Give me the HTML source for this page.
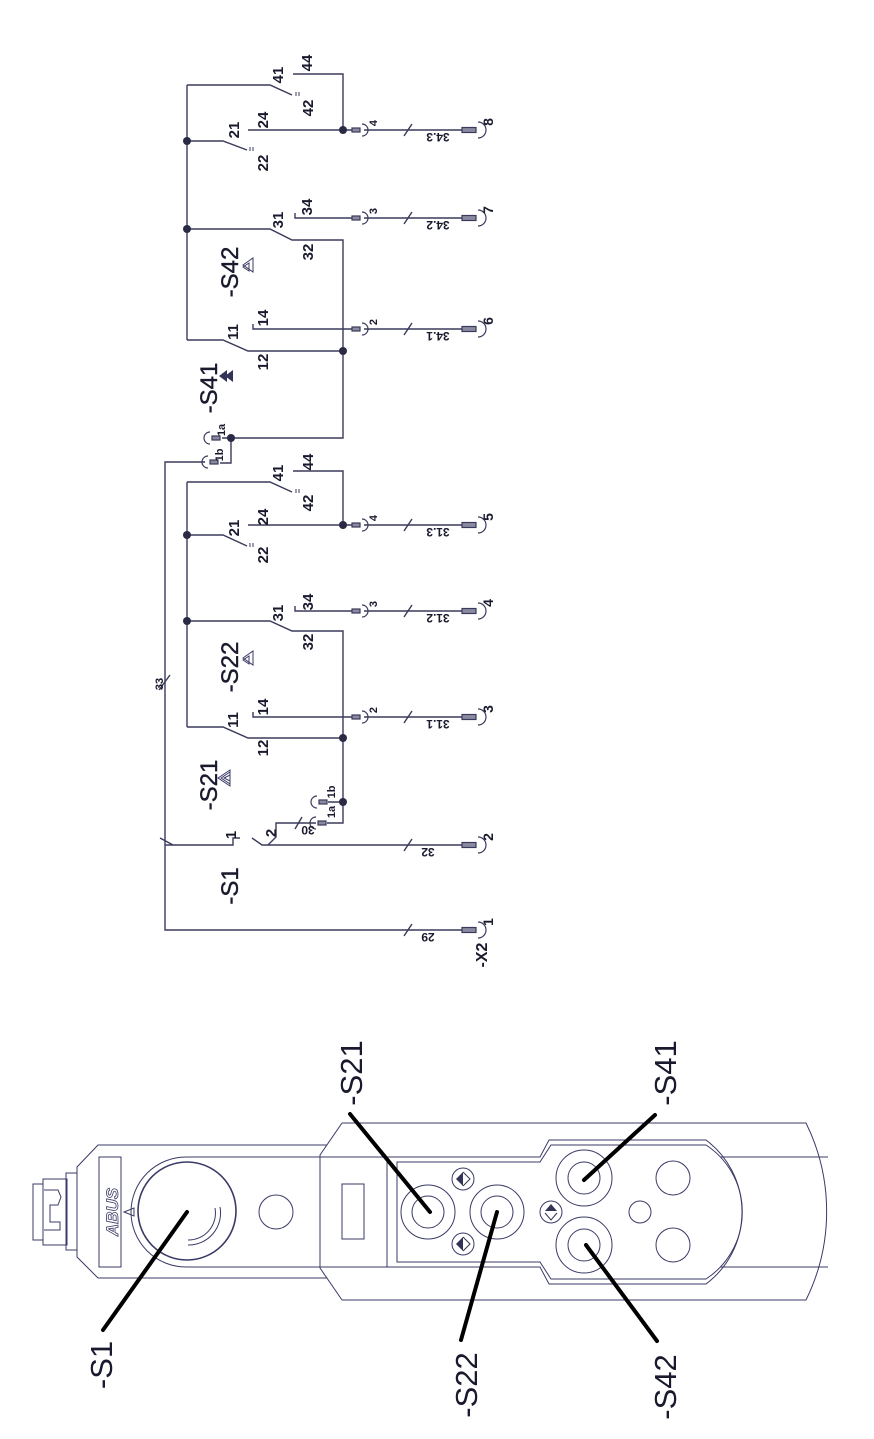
<!DOCTYPE html>
<html><head><meta charset="utf-8"><style>
html,body{margin:0;padding:0;background:#fff;}
svg{display:block;}
text{font-family:"Liberation Sans",sans-serif;fill:#1a1a2e;}
.w{fill:none;stroke:#3a3a5c;stroke-width:1.4;}
.d{fill:none;stroke:#3a3a66;stroke-width:1;}
.c{font-size:15px;font-weight:bold;}
.t{font-size:11px;font-weight:bold;}
.e{font-size:14px;font-weight:bold;}
.r{font-size:12px;font-weight:bold;}
.big{font-size:24px;stroke:#1a1a2e;stroke-width:0.4;}
.lab{font-size:31px;}
</style></head><body>
<svg width="874" height="1439" viewBox="0 0 874 1439" xmlns="http://www.w3.org/2000/svg">
<defs>
<g id="mt"><rect x="0" y="-2" width="8" height="4" fill="#8a8aa0" stroke="#3a3a5c" stroke-width="1.2"/><path d="M10,-6 A6,6 0 0 1 10,6" fill="none" stroke="#3a3a5c" stroke-width="1.2"/></g>
<g id="et"><rect x="0" y="-2.5" width="14" height="5" fill="#8a8aa0" stroke="#3a3a5c" stroke-width="1.2"/><path d="M16,-8 A8,8 0 0 1 16,8" fill="none" stroke="#3a3a5c" stroke-width="1.2"/></g>
<g id="jt"><path d="M-2,-6 A6,6 0 0 0 -2,6" fill="none" stroke="#3a3a5c" stroke-width="1.2"/><rect x="0" y="-2" width="8" height="4" fill="#8a8aa0" stroke="#3a3a5c" stroke-width="1.2"/></g>
</defs>

<path class="w" d="M187,85 V340"/>
<path class="w" d="M187,85 H270 L292,95"/>
<path class="w" d="M293,74 H343 V130"/>
<path class="w" d="M187,141 H223 L247,150"/>
<path class="w" d="M248,130 H352 M364,130 H462"/>
<path class="w" d="M187,229 H270 L292,240 H343 V351"/>
<path class="w" d="M295,213 V218 H352 M364,218 H462"/>
<path class="w" d="M187,340 H223 L248,351 H343"/>
<path class="w" d="M253,324 V329 H352 M364,329 H462"/>
<path class="w" d="M343,351 V438 H222 M231,438 V463 H220 M205,462 H165 V845"/>
<path class="w" d="M404,136 L412,124 M404,224 L412,212 M404,335 L412,323"/>
<path class="d" d="M296,92 v4 M299,92 v4 M250,147 v4 M253,147 v4"/>
<g fill="#2a2a44"><circle cx="187" cy="141" r="4"/><circle cx="187" cy="229" r="4"/><circle cx="343" cy="130" r="4"/><circle cx="343" cy="351" r="4"/><circle cx="231" cy="438" r="4"/></g>
<use href="#mt" x="352" y="130"/><use href="#mt" x="352" y="218"/><use href="#mt" x="352" y="329"/>
<use href="#et" x="462" y="130"/><use href="#et" x="462" y="218"/><use href="#et" x="462" y="329"/>
<use href="#jt" x="212" y="438"/><use href="#jt" x="210" y="462"/>

<path class="w" d="M187,482 V727"/>
<path class="w" d="M187,482 H270 L292,492"/>
<path class="w" d="M293,471 H343 V525"/>
<path class="w" d="M187,535 H223 L247,546"/>
<path class="w" d="M248,525 H352 M364,525 H462"/>
<path class="w" d="M187,621 H270 L292,631 H343 V738"/>
<path class="w" d="M295,606 V611 H352 M364,611 H462"/>
<path class="w" d="M187,727 H223 L248,738 H343"/>
<path class="w" d="M253,712 V717 H352 M364,717 H462"/>
<path class="w" d="M343,738 V823 H327 M343,802 H328"/>
<path class="w" d="M404,531 L412,519 M404,617 L412,605 M404,723 L412,711"/>
<path class="d" d="M296,489 v4 M299,489 v4 M250,543 v4 M253,543 v4"/>
<g fill="#2a2a44"><circle cx="187" cy="535" r="4"/><circle cx="187" cy="621" r="4"/><circle cx="343" cy="525" r="4"/><circle cx="343" cy="738" r="4"/><circle cx="343" cy="802" r="4"/></g>
<use href="#mt" x="352" y="525"/><use href="#mt" x="352" y="611"/><use href="#mt" x="352" y="717"/>
<use href="#et" x="462" y="525"/><use href="#et" x="462" y="611"/><use href="#et" x="462" y="717"/>
<use href="#jt" x="318" y="823"/><use href="#jt" x="319" y="802"/>

<path class="w" d="M165,845 V930 H462"/>
<path class="w" d="M160,838 L173,845"/>
<path class="w" d="M165,845 H233 V838 H240 M252,838 L262,845 H462"/>
<path class="w" d="M268,845 L276,837 V823 H316"/>
<path class="w" d="M295,829 L302,817"/>
<path class="w" d="M404,851 L412,839 M404,936 L412,924"/>
<path class="w" d="M159,690 L170,675"/>
<use href="#et" x="462" y="845"/><use href="#et" x="462" y="930"/>

<g class="c">
<text transform="translate(283,75) rotate(-90)" text-anchor="middle">41</text>
<text transform="translate(312,63) rotate(-90)" text-anchor="middle">44</text>
<text transform="translate(313,108) rotate(-90)" text-anchor="middle">42</text>
<text transform="translate(268,120) rotate(-90)" text-anchor="middle">24</text>
<text transform="translate(239,130) rotate(-90)" text-anchor="middle">21</text>
<text transform="translate(268,163) rotate(-90)" text-anchor="middle">22</text>
<text transform="translate(312,207) rotate(-90)" text-anchor="middle">34</text>
<text transform="translate(283,220) rotate(-90)" text-anchor="middle">31</text>
<text transform="translate(313,252) rotate(-90)" text-anchor="middle">32</text>
<text transform="translate(268,318) rotate(-90)" text-anchor="middle">14</text>
<text transform="translate(238,332) rotate(-90)" text-anchor="middle">11</text>
<text transform="translate(268,362) rotate(-90)" text-anchor="middle">12</text>
<text transform="translate(313,462) rotate(-90)" text-anchor="middle">44</text>
<text transform="translate(283,473) rotate(-90)" text-anchor="middle">41</text>
<text transform="translate(313,503) rotate(-90)" text-anchor="middle">42</text>
<text transform="translate(268,517) rotate(-90)" text-anchor="middle">24</text>
<text transform="translate(239,528) rotate(-90)" text-anchor="middle">21</text>
<text transform="translate(268,555) rotate(-90)" text-anchor="middle">22</text>
<text transform="translate(313,602) rotate(-90)" text-anchor="middle">34</text>
<text transform="translate(283,613) rotate(-90)" text-anchor="middle">31</text>
<text transform="translate(313,642) rotate(-90)" text-anchor="middle">32</text>
<text transform="translate(268,707) rotate(-90)" text-anchor="middle">14</text>
<text transform="translate(238,720) rotate(-90)" text-anchor="middle">11</text>
<text transform="translate(268,748) rotate(-90)" text-anchor="middle">12</text>
<text transform="translate(236,835) rotate(-90)" text-anchor="middle">1</text>
<text transform="translate(276,833) rotate(-90)" text-anchor="middle">2</text>
</g>
<g class="t">
<text transform="translate(377,123) rotate(-90)" text-anchor="middle">4</text>
<text transform="translate(377,211) rotate(-90)" text-anchor="middle">3</text>
<text transform="translate(377,322) rotate(-90)" text-anchor="middle">2</text>
<text transform="translate(377,518) rotate(-90)" text-anchor="middle">4</text>
<text transform="translate(377,604) rotate(-90)" text-anchor="middle">3</text>
<text transform="translate(377,710) rotate(-90)" text-anchor="middle">2</text>
<text transform="translate(225,430) rotate(-90)" text-anchor="middle">1a</text>
<text transform="translate(223,455) rotate(-90)" text-anchor="middle">1b</text>
<text transform="translate(335,812) rotate(-90)" text-anchor="middle">1a</text>
<text transform="translate(335,792) rotate(-90)" text-anchor="middle">1b</text>
<text transform="translate(163,684) rotate(-90)" text-anchor="middle">33</text>
</g>
<g class="e">
<text transform="translate(493,122) rotate(-90)" text-anchor="middle">8</text>
<text transform="translate(493,210) rotate(-90)" text-anchor="middle">7</text>
<text transform="translate(493,321) rotate(-90)" text-anchor="middle">6</text>
<text transform="translate(493,517) rotate(-90)" text-anchor="middle">5</text>
<text transform="translate(493,603) rotate(-90)" text-anchor="middle">4</text>
<text transform="translate(493,709) rotate(-90)" text-anchor="middle">3</text>
<text transform="translate(493,837) rotate(-90)" text-anchor="middle">2</text>
<text transform="translate(493,922) rotate(-90)" text-anchor="middle">1</text>
<text transform="translate(487,955) rotate(-90)" text-anchor="middle" style="font-size:16px">-X2</text>
</g>
<g class="r">
<text transform="translate(438,133) rotate(180)" text-anchor="middle">34.3</text>
<text transform="translate(438,221) rotate(180)" text-anchor="middle">34.2</text>
<text transform="translate(438,332) rotate(180)" text-anchor="middle">34.1</text>
<text transform="translate(438,528) rotate(180)" text-anchor="middle">31.3</text>
<text transform="translate(438,614) rotate(180)" text-anchor="middle">31.2</text>
<text transform="translate(438,720) rotate(180)" text-anchor="middle">31.1</text>
<text transform="translate(428,848) rotate(180)" text-anchor="middle">32</text>
<text transform="translate(428,933) rotate(180)" text-anchor="middle">29</text>
<text transform="translate(308,826) rotate(180)" text-anchor="middle">30</text>
</g>
<g class="big">
<text transform="translate(217,388) rotate(-90)" text-anchor="middle">-S41</text>
<text transform="translate(238,272) rotate(-90)" text-anchor="middle">-S42</text>
<text transform="translate(238,667) rotate(-90)" text-anchor="middle">-S22</text>
<text transform="translate(217,785) rotate(-90)" text-anchor="middle">-S21</text>
<text transform="translate(238,886) rotate(-90)" text-anchor="middle">-S1</text>
</g>
<g fill="#333355"><path d="M219,376 L227,370 L227,382Z"/><path d="M225,376 L233,370 L233,382Z"/></g>
<g class="d"><path d="M243,265 L253,258 L253,272Z"/><path d="M243,267 L249,263 L249,271Z"/>
<path d="M243,658 L253,651 L253,665Z"/><path d="M243,660 L249,656 L249,664Z"/>
<path d="M218,778 L230,770 L230,786Z"/><path d="M221,778 L230,772 L230,784Z"/><path d="M224,778 L230,775 L230,781Z"/></g>

<g class="d">
<rect x="33" y="1184" width="10" height="56"/>
<rect x="43" y="1179" width="24" height="66"/>
<rect x="66" y="1173" width="11" height="77"/>
<path d="M44,1190 H58 L61,1197 L58,1205 H50 V1222 H60 V1230 H44"/>
<path d="M327,1145 H98 L77,1167 V1257 L98,1278 H327"/>
<rect x="99" y="1157" width="22" height="110"/>
<path d="M320,1157 H186 A55,55 0 0 0 186,1267 H320"/>
<circle cx="187" cy="1211" r="49" stroke-width="1.6"/>
<path d="M124,1212 L134,1208 L134,1216Z"/>
<path d="M188,1245 A32,32 0 0 0 220,1207 M188,1240 A27,27 0 0 0 215,1208"/>
<circle cx="276" cy="1212" r="17"/>
<path d="M342,1123 L320,1155 V1268 L342,1300"/>
<path d="M387,1157 V1267"/>
<rect x="342" y="1184" width="22" height="55"/>
<path d="M342,1123 H806 A200,200 0 0 1 806,1300 H342"/>
<path d="M320,1157 H540 L549,1140 H706 A90,90 0 0 1 706,1284 H549 L540,1267 H320"/>
<path d="M397,1162 H540 L551,1145 H706 A80,80 0 0 1 706,1279 H551 L540,1262 H397 Z"/>
<path d="M720,1157 H828 M720,1267 H828"/>
<circle cx="428" cy="1212" r="27"/><circle cx="428" cy="1212" r="16"/>
<circle cx="497" cy="1212" r="27"/><circle cx="497" cy="1212" r="16"/>
<circle cx="584" cy="1178" r="28"/><circle cx="584" cy="1178" r="16"/>
<circle cx="584" cy="1245" r="28"/><circle cx="584" cy="1245" r="16"/>
<circle cx="673" cy="1178" r="17"/><circle cx="673" cy="1245" r="17"/>
<circle cx="640" cy="1212" r="11"/>
<circle cx="463" cy="1179" r="11"/><circle cx="463" cy="1244" r="11"/><circle cx="551" cy="1212" r="11"/>
</g>
<text transform="translate(118,1212) rotate(-90)" text-anchor="middle" style="font-size:17px;font-weight:bold;font-style:italic;fill:none;stroke:#3a3a66;stroke-width:0.8">ABUS</text>
<g fill="#333355">
<path d="M456,1179 L463,1172 L463,1186Z"/><path d="M463,1172 L470,1179 L463,1186" fill="none" stroke="#333355"/>
<path d="M456,1244 L463,1237 L463,1251Z"/><path d="M463,1237 L470,1244 L463,1251" fill="none" stroke="#333355"/>
<path d="M551,1204 L545,1211 L557,1211Z"/><path d="M545,1213 L551,1220 L557,1213" fill="none" stroke="#333355"/>
</g>
<g stroke="#000" stroke-width="4" stroke-linecap="round">
<line x1="187" y1="1212" x2="103" y2="1330"/>
<line x1="430" y1="1212" x2="350" y2="1114"/>
<line x1="497" y1="1212" x2="461" y2="1340"/>
<line x1="584" y1="1180" x2="655" y2="1115"/>
<line x1="586" y1="1245" x2="657" y2="1341"/>
</g>
<g class="lab">
<text transform="translate(112,1365) rotate(-90)" text-anchor="middle">-S1</text>
<text transform="translate(362,1073) rotate(-90)" text-anchor="middle">-S21</text>
<text transform="translate(477,1385) rotate(-90)" text-anchor="middle">-S22</text>
<text transform="translate(676,1073) rotate(-90)" text-anchor="middle">-S41</text>
<text transform="translate(676,1387) rotate(-90)" text-anchor="middle">-S42</text>
</g>
</svg>
</body></html>
